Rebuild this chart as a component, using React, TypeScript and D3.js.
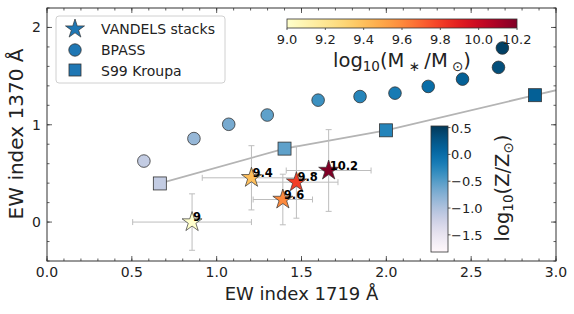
import React from 'react';
import * as d3 from 'd3';

// VANDELS stacks (coloured by stellar mass)
const stackMass = [9.0, 9.4, 9.6, 9.8, 10.2];
const stackLabels = ['9', '9.4', '9.6', '9.8', '10.2'];
const stackX = [0.855, 1.205, 1.39, 1.47, 1.66];
const stackY = [0.0, 0.455, 0.232, 0.41, 0.53];
const stackXErr = [0.35, 0.29, 0.175, 0.245, 0.25];
const stackYErr = [0.29, 0.33, 0.26, 0.37, 0.42];

// BPASS models (coloured by metallicity)
const bpassX = [0.571, 0.866, 1.071, 1.298, 1.598, 1.845, 2.051, 2.247, 2.449, 2.661, 2.684];
const bpassY = [0.627, 0.858, 1.005, 1.1, 1.253, 1.29, 1.325, 1.394, 1.469, 1.59, 1.789];
const bpassZ = [-1.15, -0.85, -0.67, -0.55, -0.37, -0.25, -0.15, 0.0, 0.15, 0.33, 0.46];

// Starburst99 Kroupa models
const s99X = [0.665, 1.4, 1.998, 2.876, 3.5];
const s99Y = [0.397, 0.755, 0.943, 1.304, 1.56];
const s99Z = [-1.15, -0.55, -0.24, 0.15, 0.46];

const xTicks = [0, 0.5, 1, 1.5, 2, 2.5, 3];
const yTicks = [0, 1, 2];
const massTicks = [9.0, 9.2, 9.4, 9.6, 9.8, 10.0, 10.2];
const zTicks = [0.5, 0, -0.5, -1, -1.5];

const W = 574;
const H = 314;
const FONT = 'DejaVu Sans, sans-serif';

const x = d3.scaleLinear().domain([0, 3]).range([47, 556]);
const y = d3.scaleLinear().domain([-0.4, 2.2]).range([261, 8]);
const massColor = d3.scaleSequential(d3.interpolateYlOrRd).domain([9.0, 10.2]);
const zColor = d3.scaleSequential(d3.interpolatePuBu).domain([-1.82, 0.53]);
const massX = d3.scaleLinear().domain([9.0, 10.2]).range([287, 517]);
const zY = d3.scaleLinear().domain([-1.82, 0.53]).range([252, 126]);

const starPath = (r: number) => d3.symbol(d3.symbolStar, (r * r) / 0.8908130915292852)()!;
const fmt = (v: number) => (v < 0 ? '\u2212' : '') + Math.abs(v).toFixed(1);

const App = () => {
  const [x0, x1] = x.range();
  const [y0, y1] = y.range();
  const xMinor = d3.range(0, 3.0001, 0.1);
  const yMinor = d3.range(-0.4, 2.2001, 0.2);
  const lineGen = d3.line<number>().x((d, i) => x(s99X[i])).y((d, i) => y(s99Y[i]));
  const stops = d3.range(0, 1.0001, 0.05);

  return (
    <div style={{ position: 'fixed', left: 0, top: 0 }}>
      <svg width={W} height={H} style={{ fontFamily: FONT, display: 'block' }}>
        <defs>
          <clipPath id="plot">
            <rect x={x0} y={y1} width={x1 - x0} height={y0 - y1} />
          </clipPath>
          <linearGradient id="massgrad" x1="0" x2="1" y1="0" y2="0">
            {stops.map(t => <stop key={t} offset={t} stopColor={d3.interpolateYlOrRd(t)} />)}
          </linearGradient>
          <linearGradient id="zgrad" x1="0" x2="0" y1="1" y2="0">
            {stops.map(t => <stop key={t} offset={t} stopColor={d3.interpolatePuBu(t)} />)}
          </linearGradient>
        </defs>
        <rect width={W} height={H} fill="#fff" />

        <g clipPath="url(#plot)">
          {/* S99 line */}
          <path d={lineGen(s99X)!} fill="none" stroke="#b4b4b4" strokeWidth={1.8} />
          {s99X.map((d, i) => (
            <rect key={'s' + i} x={x(d) - 6.5} y={y(s99Y[i]) - 6.5} width={13} height={13}
              fill={zColor(s99Z[i])} stroke="#333" strokeWidth={0.8} />
          ))}
          {bpassX.map((d, i) => (
            <circle key={'b' + i} cx={x(d)} cy={y(bpassY[i])} r={6.3}
              fill={zColor(bpassZ[i])} stroke="#333" strokeWidth={0.8} />
          ))}
          {/* error bars */}
          {stackX.map((d, i) => {
            const cx = x(d), cy = y(stackY[i]);
            const xl = x(d - stackXErr[i]), xr = x(d + stackXErr[i]);
            const yt = y(stackY[i] + stackYErr[i]), yb = y(stackY[i] - stackYErr[i]);
            return (
              <g key={'e' + i} stroke="#bdbdbd" strokeWidth={1}>
                <line x1={xl} x2={xr} y1={cy} y2={cy} />
                <line x1={cx} x2={cx} y1={yt} y2={yb} />
                <line x1={xl} x2={xl} y1={cy - 3} y2={cy + 3} />
                <line x1={xr} x2={xr} y1={cy - 3} y2={cy + 3} />
                <line x1={cx - 3} x2={cx + 3} y1={yt} y2={yt} />
                <line x1={cx - 3} x2={cx + 3} y1={yb} y2={yb} />
              </g>
            );
          })}
          {stackX.map((d, i) => (
            <path key={'st' + i} d={starPath(10.5)} transform={`translate(${x(d)},${y(stackY[i])})`}
              fill={massColor(stackMass[i])} stroke="#333" strokeWidth={0.7} />
          ))}
          {stackX.map((d, i) => (
            <text key={'l' + i} x={x(d) + 1} y={y(stackY[i]) - 1} fontSize={11.5} fontWeight="bold" fill="#000">
              {stackLabels[i]}
            </text>
          ))}
        </g>

        {/* frame and ticks */}
        <rect x={x0} y={y1} width={x1 - x0} height={y0 - y1} fill="none" stroke="#333" strokeWidth={1} />
        <g stroke="#333" strokeWidth={0.8}>
          {xMinor.map(v => (
            <g key={'xm' + v}>
              <line x1={x(v)} x2={x(v)} y1={y0} y2={y0 - 2.5} />
              <line x1={x(v)} x2={x(v)} y1={y1} y2={y1 + 2.5} />
            </g>
          ))}
          {xTicks.map(v => (
            <g key={'xt' + v}>
              <line x1={x(v)} x2={x(v)} y1={y0} y2={y0 - 5} />
              <line x1={x(v)} x2={x(v)} y1={y1} y2={y1 + 5} />
            </g>
          ))}
          {yMinor.map(v => (
            <g key={'ym' + v}>
              <line x1={x0} x2={x0 + 2.5} y1={y(v)} y2={y(v)} />
              <line x1={x1} x2={x1 - 2.5} y1={y(v)} y2={y(v)} />
            </g>
          ))}
          {yTicks.map(v => (
            <g key={'yt' + v}>
              <line x1={x0} x2={x0 + 5} y1={y(v)} y2={y(v)} />
              <line x1={x1} x2={x1 - 5} y1={y(v)} y2={y(v)} />
            </g>
          ))}
        </g>
        {xTicks.map(v => (
          <text key={'xl' + v} x={x(v)} y={y0 + 16} textAnchor="middle" fontSize={14} fill="#222">
            {v.toFixed(1)}
          </text>
        ))}
        {yTicks.map(v => (
          <text key={'yl' + v} x={x0 - 6} y={y(v) + 5} textAnchor="end" fontSize={14} fill="#222">
            {v}
          </text>
        ))}
        <text x={(x0 + x1) / 2} y={300} textAnchor="middle" fontSize={18} fill="#222">EW index 1719 Å</text>
        <text transform={`translate(23,134) rotate(-90)`} textAnchor="middle" fontSize={20} fill="#222">
          EW index 1370 Å
        </text>

        {/* legend */}
        <rect x={56} y={16} width={169} height={67} rx={3} fill="#fff" fillOpacity={0.85} stroke="#d0d0d0" strokeWidth={1} />
        <path d={starPath(10)} transform="translate(75,29)" fill="#1f77b4" stroke="#333" strokeWidth={0.7} />
        <circle cx={75} cy={50} r={6.2} fill="#1f77b4" stroke="#333" strokeWidth={0.8} />
        <rect x={69} y={64} width={12} height={12} fill="#1f77b4" stroke="#333" strokeWidth={0.8} />
        <text x={101} y={34} fontSize={14} fill="#222">VANDELS stacks</text>
        <text x={101} y={55} fontSize={14} fill="#222">BPASS</text>
        <text x={101} y={76} fontSize={14} fill="#222">S99 Kroupa</text>

        {/* mass colorbar */}
        <rect x={287} y={19} width={230} height={9} fill="url(#massgrad)" stroke="#333" strokeWidth={0.8} />
        {massTicks.map(v => (
          <g key={'mt' + v}>
            <line x1={massX(v)} x2={massX(v)} y1={28} y2={30} stroke="#333" strokeWidth={0.8} />
            <text x={massX(v)} y={44} textAnchor="middle" fontSize={13} fill="#222">{v.toFixed(1)}</text>
          </g>
        ))}
        <text x={402} y={67} textAnchor="middle" fontSize={19.5} fill="#222">
          log<tspan fontSize={13.5} dy={4}>10</tspan>
          <tspan dy={-4}>(M</tspan>
          <tspan fontSize={13.5} dy={4}> ∗ </tspan>
          <tspan dy={-4}>/M</tspan>
          <tspan fontSize={13.5} dy={4}> ⊙</tspan>
          <tspan dy={-4}>)</tspan>
        </text>

        {/* metallicity colorbar */}
        <rect x={431} y={126} width={17} height={126} fill="url(#zgrad)" stroke="#333" strokeWidth={0.8} />
        {zTicks.map(v => (
          <g key={'zt' + v}>
            <line x1={448} x2={450.5} y1={zY(v)} y2={zY(v)} stroke="#333" strokeWidth={0.8} />
            <text x={451} y={zY(v) + 5} fontSize={13} fill="#222">{fmt(v)}</text>
          </g>
        ))}
        <text transform="translate(509,188) rotate(-90)" textAnchor="middle" fontSize={19.5} fill="#222">
          log<tspan fontSize={13.5} dy={4}>10</tspan>
          <tspan dy={-4}>(Z/Z</tspan>
          <tspan fontSize={13.5} dy={4}>⊙</tspan>
          <tspan dy={-4}>)</tspan>
        </text>
      </svg>
    </div>
  );
};

export default App;
